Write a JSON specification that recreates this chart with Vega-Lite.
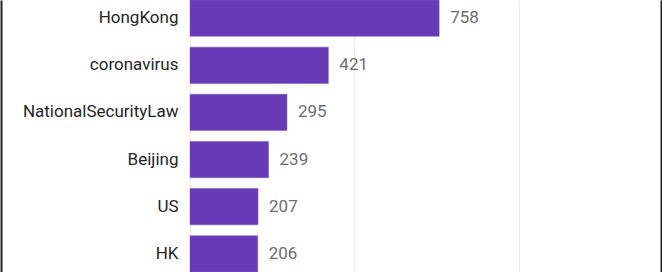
{
  "$schema": "https://vega.github.io/schema/vega-lite/v6.json",
  "autosize": {"type": "none"},
  "padding": {"left": 190, "top": 0, "right": 2, "bottom": 0},
  "width": 470,
  "height": 272,
  "background": "white",
  "config": {"view": {"stroke": null}},
  "data": {
    "values": [
      {"tag": "HongKong", "count": 758},
      {"tag": "coronavirus", "count": 421},
      {"tag": "NationalSecurityLaw", "count": 295},
      {"tag": "Beijing", "count": 239},
      {"tag": "US", "count": 207},
      {"tag": "HK", "count": 206}
    ]
  },
  "encoding": {
    "y": {
      "field": "tag",
      "type": "nominal",
      "sort": null,
      "scale": {"paddingInner": 0.23, "paddingOuter": 0}
    },
    "x": {
      "field": "count",
      "type": "quantitative",
      "scale": {"domain": [0, 1430], "nice": false},
      "axis": {
        "values": [0, 500, 1000],
        "labels": false,
        "ticks": false,
        "domain": false,
        "title": null,
        "grid": true,
        "gridColor": "#ececec",
        "gridWidth": 1
      }
    }
  },
  "layer": [
    {
      "mark": {"type": "bar", "color": "#673ab7", "stroke": "#7a55c0", "strokeWidth": 0.5},
      "encoding": {
        "y": {
          "field": "tag",
          "type": "nominal",
          "sort": null,
          "axis": {
            "orient": "left",
            "title": null,
            "offset": 189,
            "domain": true,
            "domainColor": "#222222",
            "domainWidth": 2,
            "ticks": false,
            "labelPadding": -177,
            "labelFont": "Roboto",
            "labelFontSize": 17,
            "labelColor": "#252525",
            "labelLimit": 300
          }
        }
      }
    },
    {
      "mark": {
        "type": "text",
        "align": "left",
        "baseline": "middle",
        "dx": 11,
        "font": "Roboto",
        "fontSize": 17,
        "color": "#6e6e6e"
      },
      "encoding": {
        "text": {"field": "count", "type": "quantitative"},
        "y": {
          "field": "tag",
          "type": "nominal",
          "sort": null,
          "axis": {
            "orient": "right",
            "title": null,
            "offset": 1,
            "domain": true,
            "domainColor": "#222222",
            "domainWidth": 2,
            "ticks": false,
            "labels": false
          }
        }
      }
    }
  ],
  "resolve": {"axis": {"y": "independent"}}
}
